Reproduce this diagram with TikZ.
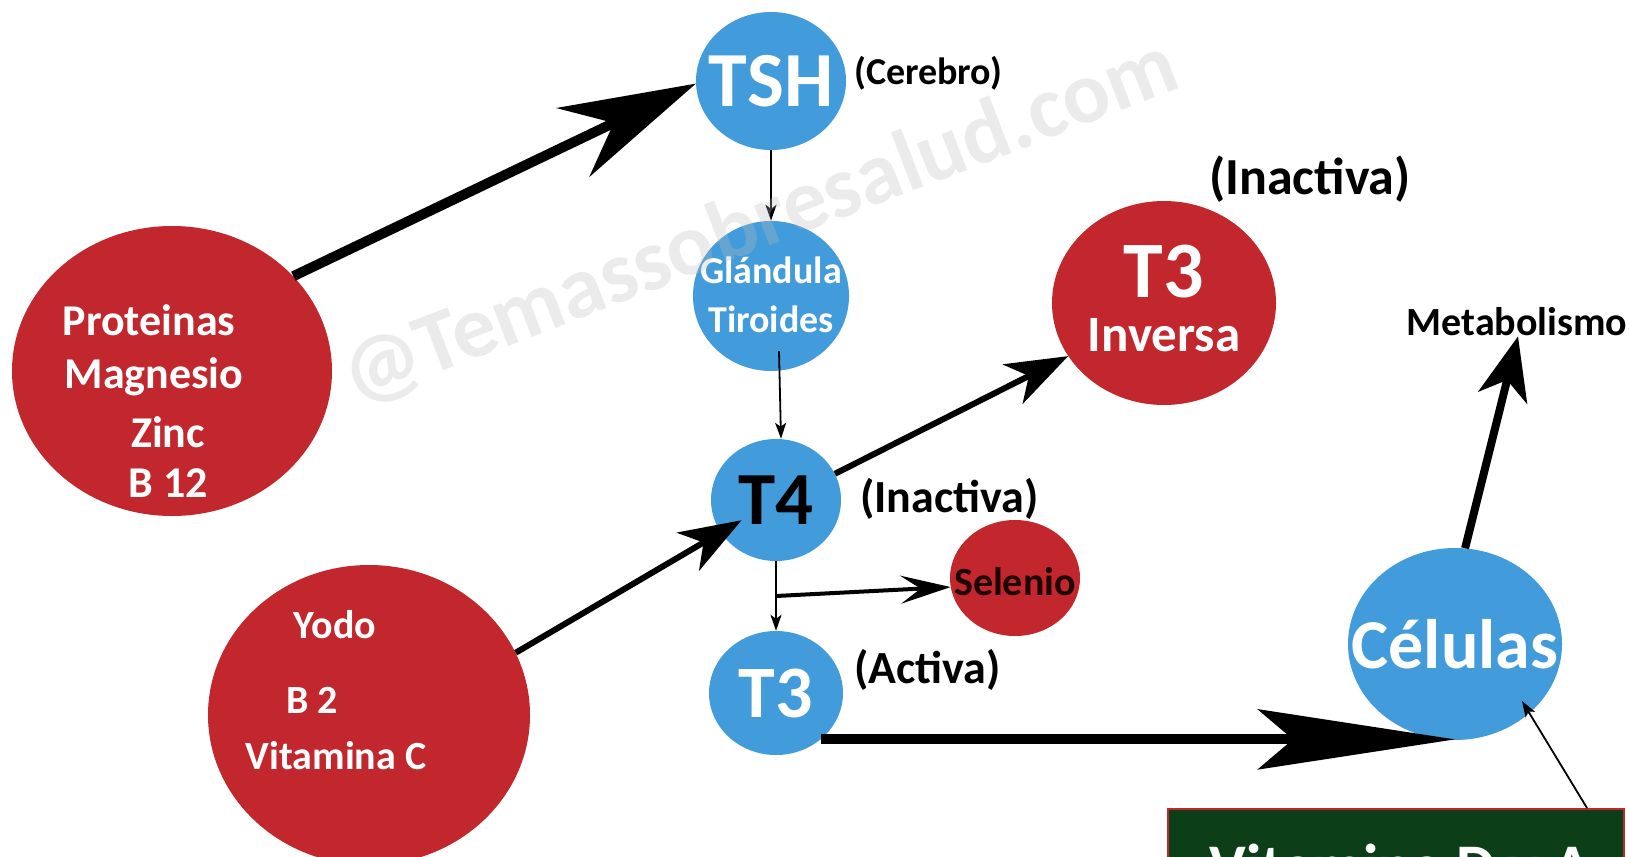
\documentclass[tikz,border=0pt]{standalone}
\usepackage{fontspec}
\setmainfont{Carlito}
\usetikzlibrary{arrows.meta,shapes.geometric,calc}
\definecolor{cred}{RGB}{193,39,45}
\definecolor{cblue}{RGB}{66,155,218}
\definecolor{cgreen}{RGB}{12,62,24}
\definecolor{wm}{RGB}{190,190,190}
\newcommand\fsz[1]{\fontsize{#1}{#1}\selectfont\bfseries}
\tikzset{
  blob/.style={ellipse, inner sep=0pt, draw=none},
  redblob/.style={blob, fill=cred},
  blueblob/.style={blob, fill=cblue},
  wtxt/.style={text=white, inner sep=0pt},
  btxt/.style={text=black, inner sep=0pt},
  thinarr/.style={line width=1.8pt, -{Stealth[length=16pt,width=11pt,inset=4pt]}},
  medarr/.style={line width=6pt, -{Stealth[length=62pt,width=44pt,inset=18pt]}},
  selarr/.style={line width=4pt, -{Stealth[length=50pt,width=28pt,inset=20pt]}},
  metarr/.style={line width=8pt, -{Stealth[length=63pt,width=50pt,inset=18pt]}},
  bigarr/.style={line width=10pt, -{Stealth[length=136pt,width=76pt,inset=45pt]}},
  longarr/.style={line width=10pt, -{Stealth[length=197pt,width=60pt,inset=35pt]}},
}
\begin{document}
\begin{tikzpicture}[x=1pt,y=-1pt]
\useasboundingbox (0,0) rectangle (1629,856);
\clip (0,0) rectangle (1629,856);
\fill[white] (0,0) rectangle (1629,856);
% circles
\node[redblob, minimum width=320pt, minimum height=290pt] (prot) at (172,371) {};
\node[redblob, minimum width=322pt, minimum height=300pt] (yodo) at (369,715) {};
\node[blueblob, minimum width=150pt, minimum height=138pt] (tsh) at (771,81) {};
\node[blueblob, minimum width=156pt, minimum height=150pt] (gland) at (771,296) {};
\node[blueblob, minimum width=130pt, minimum height=122pt] (t4) at (776,500) {};
\node[redblob, minimum width=130pt, minimum height=116pt] (sel) at (1015,578) {};
\node[blueblob, minimum width=134pt, minimum height=124pt] (t3) at (776,693) {};
\node[redblob, minimum width=224pt, minimum height=204pt] (t3i) at (1164,303) {};
\node[blueblob, minimum width=214pt, minimum height=192pt] (cel) at (1455,644) {};
\node[draw=cred, line width=1.5pt, fill=cgreen, minimum width=456pt, minimum height=140pt, anchor=north west, inner sep=0pt] (vit) at (1167,808) {};
% texts
\node[wtxt, font=\fsz{44}, anchor=base] (tprot1) at (149,335) {Proteinas};
\node[wtxt, font=\fsz{44}, anchor=base] (tprot2) at (154,388) {Magnesio};
\node[wtxt, font=\fsz{44}, anchor=base] (tprot3) at (168,447) {Zinc};
\node[wtxt, font=\fsz{44}, anchor=base] (tprot4) at (168,497) {B 12};
\node[wtxt, font=\fsz{40}, anchor=base] (tyodo1) at (335,638) {Yodo};
\node[wtxt, font=\fsz{40}, anchor=base] (tyodo2) at (312,713) {B 2};
\node[wtxt, font=\fsz{40}, anchor=base] (tyodo3) at (336,769) {Vitamina C};
\node[wtxt, font=\fsz{78}] (ttsh) at (771,81) {TSH};
\node[btxt, font=\fsz{38}, anchor=west] (tcer) at (854,73) {(Cerebro)};
\node[wtxt, font=\fsz{38}, anchor=base] (tgl1) at (771,283) {Glándula};
\node[wtxt, font=\fsz{38}, anchor=base] (tgl2) at (771,332) {Tiroides};
\node[btxt, font=\fsz{75}] (tt4) at (776,500) {T4};
\node[btxt, font=\fsz{46}, anchor=west] (tina) at (860,499) {(Inactiva)};
\node[inner sep=0pt, text=black!88!red, font=\fsz{40}] (tsel) at (1015,582) {Selenio};
\node[wtxt, font=\fsz{74}] (tt3) at (776,693) {T3};
\node[btxt, font=\fsz{46}, anchor=west] (tact) at (854,670) {(Activa)};
\node[wtxt, font=\fsz{80}] (tt3i1) at (1164,272) {T3};
\node[wtxt, font=\fsz{51}] (tt3i2) at (1164,335) {Inversa};
\node[btxt, font=\fsz{52}] (tinb) at (1310,179) {(Inactiva)};
\node[wtxt, font=\fsz{70}] (tcel) at (1455,644) {Células};
\node[btxt, font=\fsz{40}] (meta) at (1517,322) {Metabolismo};
\node[wtxt, font=\fsz{62}, anchor=base] (tvit) at (1400,887) {Vitamina D y A};
% connectors
\draw[bigarr] (prot.38) -- (tsh.182);
\draw[thinarr] (tsh.south) -- (gland.north);
\draw[thinarr] ($(gland.south)+(8,-20)$) -- ($(t4.north)+(5,0)$);
\draw[medarr] (t4.24) -- (t3i.209);
\draw[medarr, shorten >=40pt] (yodo.23) -- (t4.center);
\draw[thinarr] (t4.south) -- (t3.north);
\coordinate (fork) at ($(t4.south)!0.5!(t3.north)$);
\draw[selarr] (fork) -- (sel.188);
\draw[longarr] (t3.-46) -- (t3.-46 -| cel.south);
\draw[metarr] (cel.84) -- ([xshift=1pt]meta.south);
\coordinate (celin) at ($(cel.center)+(67,57)$);
\draw[thinarr] ($(vit.north west)+(420,0)$) -- (celin);
% watermark
\node[text=wm, text opacity=0.3, font=\fsz{88}, rotate=21, inner sep=0pt] (wmark) at (760,222) {@Temassobresalud.com};
\end{tikzpicture}
\end{document}
